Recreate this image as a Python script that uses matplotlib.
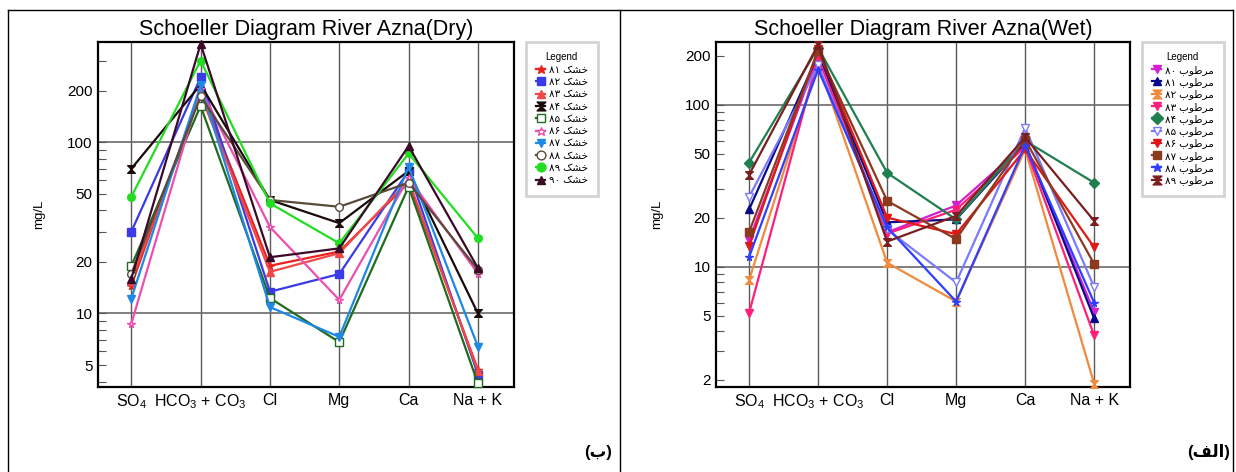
import numpy as np
import matplotlib
matplotlib.use("Agg")
import matplotlib.pyplot as plt
from matplotlib.path import Path
from matplotlib.lines import Line2D

plt.rcParams['font.family'] = ['Liberation Sans', 'DejaVu Sans']
plt.rcParams['mathtext.fontset'] = 'custom'
plt.rcParams['mathtext.rm'] = 'Liberation Sans'
plt.rcParams['mathtext.it'] = 'Liberation Sans'

# ions along the x axis
ions = [r'SO$_4$', r'HCO$_3$ + CO$_3$', 'Cl', 'Mg', 'Ca', 'Na + K']

# dry season (left panel), mg/L  -> SO4, HCO3+CO3, Cl, Mg, Ca, Na+K
dry_labels = ['خشک ۸۱', 'خشک ۸۲', 'خشک ۸۳', 'خشک ۸۴', 'خشک ۸۵',
              'خشک ۸۶', 'خشک ۸۷', 'خشک ۸۸', 'خشک ۸۹', 'خشک ۹۰']
dry_values = [
    [14.5, 200, 19.0, 23.0, 58, 4.7],
    [30.0, 239, 13.4, 17.0, 68, 4.4],
    [15.5, 190, 17.5, 22.5, 60, 4.6],
    [70.0, 217, 46.0, 33.7, 68, 10.0],
    [18.9, 163, 12.3, 6.8, 55, 3.9],
    [8.7, 205, 32.0, 12.0, 62, 17.1],
    [12.2, 215, 10.9, 7.3, 72, 6.4],
    [17.0, 185, 46.0, 42.0, 58, 18.0],
    [48.0, 300, 44.0, 25.7, 86, 27.5],
    [16.0, 375, 21.3, 24.0, 95, 18.4],
]

# wet season (right panel)
wet_labels = ['مرطوب ۸۰', 'مرطوب ۸۱', 'مرطوب ۸۲', 'مرطوب ۸۳', 'مرطوب ۸۴',
              'مرطوب ۸۵', 'مرطوب ۸۶', 'مرطوب ۸۷', 'مرطوب ۸۸', 'مرطوب ۸۹']
wet_values = [
    [14.6, 200, 16.3, 23.9, 57, 5.25],
    [22.6, 205, 18.8, 19.6, 58, 4.8],
    [8.3, 180, 10.6, 6.1, 53, 1.9],
    [5.2, 195, 16.0, 22.5, 55, 3.77],
    [44.0, 225, 38.0, 19.6, 60, 33.0],
    [27.0, 175, 17.0, 8.0, 72, 7.5],
    [13.5, 220, 20.1, 15.9, 53, 13.2],
    [16.4, 215, 25.5, 14.8, 61, 10.4],
    [11.5, 165, 17.5, 6.1, 56, 6.0],
    [37.0, 235, 14.3, 20.6, 63, 19.2],
]

# hourglass marker used by the software
hourglass = Path([(-1, 1), (1, 1), (-1, -1), (1, -1), (-1, 1)],
                 [Path.MOVETO, Path.LINETO, Path.LINETO, Path.LINETO, Path.CLOSEPOLY])

dry_colors = ['#e8231e', '#3a3ae6', '#f04848', '#1a0a0a', '#1f6b1f',
              '#ec4fb0', '#1e88e5', '#5a4a3a', '#22dd22', '#3a0a28']
dry_markers = ['*', 's', '^', hourglass, 's', '*', 'v', 'o', 'o', '^']
dry_open = [False, False, False, False, True, True, False, True, False, False]

wet_colors = ['#d21fd2', '#0b0b8a', '#f08a3c', '#ff1f7a', '#1f7f4f',
              '#7b7bff', '#e01818', '#8b3a1f', '#2f3fff', '#7a1f1f']
wet_markers = ['v', '^', hourglass, 'v', 'D', 'v', 'v', 's', '*', hourglass]
wet_open = [False, False, False, False, False, True, False, False, False, False]


# minimal arabic/persian shaping, matplotlib draws glyphs left to right
FORMS = {
    'ا': ('\uFE8D', '\uFE8E', None, None),
    'ب': ('\uFE8F', '\uFE90', '\uFE91', '\uFE92'),
    'خ': ('\uFEA5', '\uFEA6', '\uFEA7', '\uFEA8'),
    'ر': ('\uFEAD', '\uFEAE', None, None),
    'ش': ('\uFEB5', '\uFEB6', '\uFEB7', '\uFEB8'),
    'ط': ('\uFEC1', '\uFEC2', '\uFEC3', '\uFEC4'),
    'ف': ('\uFED1', '\uFED2', '\uFED3', '\uFED4'),
    'ل': ('\uFEDD', '\uFEDE', '\uFEDF', '\uFEE0'),
    'م': ('\uFEE1', '\uFEE2', '\uFEE3', '\uFEE4'),
    'و': ('\uFEED', '\uFEEE', None, None),
    'ک': ('\uFB8E', '\uFB8F', '\uFB90', '\uFB91'),
}


def shape_word(word):
    out = []
    for i, ch in enumerate(word):
        if ch not in FORMS:
            out.append(ch)
            continue
        iso, fin, ini, med = FORMS[ch]
        prev = word[i - 1] if i > 0 else None
        nxt = word[i + 1] if i < len(word) - 1 else None
        joins_prev = prev in FORMS and FORMS[prev][2] is not None
        joins_next = nxt in FORMS and ini is not None
        if joins_prev and joins_next:
            out.append(med)
        elif joins_prev:
            out.append(fin)
        elif joins_next:
            out.append(ini)
        else:
            out.append(iso)
    return ''.join(reversed(out))


def rtl(text):
    words = text.split(' ')
    return ' '.join(shape_word(w) if any(c in FORMS for c in w) else w
                    for w in reversed(words))


def draw_panel(ax, title, values, labels, colors, markers, opened, ylim, major, minor):
    x = np.arange(len(ions))
    for xi in x:
        ax.axvline(xi, color='#5a5a5a', lw=1.0, zorder=1)
    for yv in (10, 100):
        ax.axhline(yv, color='#6a6a6a', lw=1.2, zorder=1)

    for vals, lab, c, m, op in zip(values, labels, colors, markers, opened):
        ax.plot(x, vals, color=c, lw=1.6, marker=m, ms=5.5,
                mfc='white' if op else c, mec=c, mew=1.0,
                label=rtl(lab), zorder=3, clip_on=False)

    ax.set_yscale('log')
    ax.set_ylim(*ylim)
    ax.set_xlim(-0.48, 5.52)
    ax.set_xticks(x)
    ax.set_xticklabels(ions, fontsize=11.5)
    ax.tick_params(axis='x', length=0, pad=4)
    ax.set_yticks(major)
    ax.set_yticklabels([str(v) for v in major], fontsize=11)
    ax.set_yticks(minor, minor=True)
    ax.yaxis.set_minor_formatter(plt.NullFormatter())
    ax.tick_params(axis='y', which='both', direction='in', length=6,
                   width=0.8, color='#555555', pad=4)
    ax.set_ylabel('mg/L', fontsize=9.5, labelpad=16)
    ax.set_title(title, fontsize=15.5, pad=5)
    for sp in ax.spines.values():
        sp.set_linewidth(1.6)

    leg = ax.legend(title='Legend', loc='upper left', bbox_to_anchor=(1.028, 1.0),
                    borderaxespad=0, fontsize=7.5, title_fontsize=7,
                    fancybox=False, edgecolor='#d4d4d4', framealpha=1,
                    labelspacing=0.22, handlelength=0.9, handletextpad=0.3,
                    borderpad=1.0, markerscale=1.15)
    leg.get_frame().set_linewidth(2.0)


fig = plt.figure(figsize=(12.36, 4.72), dpi=100)
W, H = 1236.0, 472.0

ax1 = fig.add_axes([98 / W, 1 - 387 / H, 416 / W, 345 / H])
ax2 = fig.add_axes([716 / W, 1 - 387 / H, 414 / W, 345 / H])

draw_panel(ax1, 'Schoeller Diagram River Azna(Dry)', dry_values, dry_labels,
           dry_colors, dry_markers, dry_open, (3.72, 385),
           [5, 10, 20, 50, 100, 200], [4, 6, 7, 8, 9, 30, 40, 60, 70, 80, 90, 300])
draw_panel(ax2, 'Schoeller Diagram River Azna(Wet)', wet_values, wet_labels,
           wet_colors, wet_markers, wet_open, (1.81, 244),
           [2, 5, 10, 20, 50, 100, 200], [3, 4, 6, 7, 8, 9, 30, 40, 60, 70, 80, 90])

# panel frames
for xs, ys in [((8, 8), (10, H)), ((620, 620), (10, H)), ((1233, 1233), (10, H)),
               ((8, 1233), (10, 10))]:
    fig.add_artist(Line2D([v / W for v in xs], [1 - v / H for v in ys],
                          color='black', lw=1.0, transform=fig.transFigure))

fig.text(612 / W, 1 - 452 / H, '(' + rtl('ب') + ')', ha='right', va='center',
         fontsize=12, fontweight='bold')
fig.text(1230 / W, 1 - 452 / H, '(' + rtl('الف') + ')', ha='right', va='center',
         fontsize=12, fontweight='bold')

fig.savefig('out.png', dpi=100)
